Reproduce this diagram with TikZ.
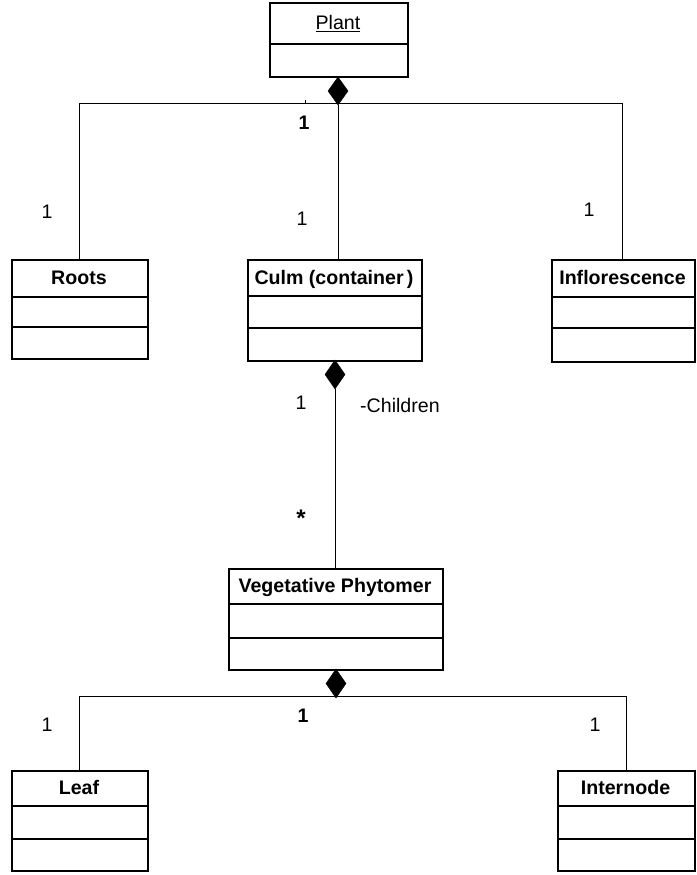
\documentclass[tikz,border=0pt]{standalone}
\usepackage{fontspec}
\setmainfont{Liberation Sans}
\usetikzlibrary{calc}
\begin{document}
\begin{tikzpicture}[x=1pt,y=-1pt,
  boxline/.style={draw=black,line width=1.6pt},
  divline/.style={draw=black,line width=1.4pt},
  conn/.style={draw=black,line width=0.9pt},
  diam/.style={fill=black,draw=black},
  ttl/.style={font=\fontsize{19.6}{21}\selectfont\bfseries,inner sep=0pt,anchor=base},
  lbl/.style={font=\fontsize{19.6}{21}\selectfont,inner sep=0pt},
  blbl/.style={font=\fontsize{19.6}{21}\selectfont\bfseries,inner sep=0pt}]
\useasboundingbox (0,0) rectangle (696,875);
% class macro: name, x1,y1,x2,y2, div1, div2, title
\newcommand{\umlbox}[8]{%
  \node[boxline,inner sep=0pt,anchor=north west,minimum width={#4-#2},minimum height={#5-#3}] (#1) at (#2,#3) {};
  \draw[divline] (#2,#6) -- (#4,#6);
  \draw[divline] (#2,#7) -- (#4,#7);
  \node[ttl] (#1t) at ({(#2+#4)/2},{(#3+#6)/2+6.5}) {#8};
}
% Plant
\node[boxline,inner sep=0pt,anchor=north west,minimum width=138,minimum height=74] (plant) at (269,2) {};
\draw[divline] (269,44) -- (407,44);
\node[lbl,anchor=base] (plantt) at (338,29.5) {\underline{Plant}};

\umlbox{roots}{11}{259}{147}{358}{297}{327}{Roots}
\umlbox{culm}{247}{259}{421}{360}{296}{328}{Culm (container\,)}
\umlbox{infl}{551}{259}{694}{361}{297}{328}{Inflorescence}
\umlbox{veg}{228}{568}{442}{669}{604}{638}{Vegetative Phytomer}
\umlbox{leaf}{11}{770}{147}{870}{806}{839}{Leaf}
\umlbox{intn}{557}{770}{694}{870}{806}{839}{Internode}

% Plant composition
\coordinate (pd) at (338,77);
\coordinate (pdb) at (338,105);
\coordinate (jl) at (79,103);
\coordinate (jr) at (622,103);
\draw[conn] (jl) -- (jr);
\draw[conn] (jl) -- (79,259);
\draw[conn] (jr) -- (622,259);
\draw[conn] (pdb) -- (338,259);
\draw[diam] (338,77) -- (348,91) -- (338,105) -- (328,91) -- cycle;
\draw[line width=0.6pt] (305,100) -- (305,104);
\node[blbl] (p1) at (304,123) {1};
\node[lbl] (r1) at (47,212) {1};
\node[lbl] (c1) at (302,219) {1};
\node[lbl] (i1) at (589,210) {1};

% Culm - Vegetative phytomer
\draw[conn] (335,389) -- (335,568);
\draw[diam] (335,360) -- (345,374.5) -- (335,389) -- (325,374.5) -- cycle;
\node[lbl] (cu1) at (301,403) {1};
\node[lbl,anchor=west] (ch) at (360,405) {-Children};
\node[font=\fontsize{24}{26}\selectfont\bfseries,inner sep=0pt] (star) at (301,518) {*};

% Vegetative phytomer composition
\coordinate (vl) at (79,696);
\coordinate (vr) at (626,696);
\draw[conn] (vl) -- (vr);
\draw[conn] (vl) -- (79,770);
\draw[conn] (vr) -- (626,770);
\draw[diam] (336,669) -- (346,683.5) -- (336,698) -- (326,683.5) -- cycle;
\node[blbl] (v1) at (303,716) {1};
\node[lbl] (l1) at (47,725) {1};
\node[lbl] (n1) at (595,725) {1};
\end{tikzpicture}
\end{document}
